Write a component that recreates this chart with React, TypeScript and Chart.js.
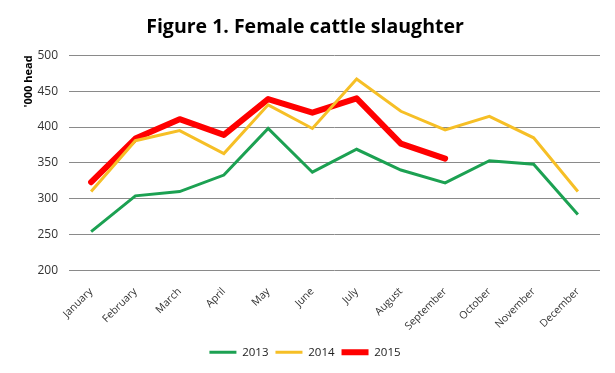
import React, { useEffect, useRef } from "react";
import { Chart, registerables } from "chart.js";

Chart.register(...registerables);

const months = ["January", "February", "March", "April", "May", "June", "July", "August", "September", "October", "November", "December"];
const series2013 = [254, 304, 310, 333, 398, 337, 369, 340, 322, 353, 348, 278];
const series2014 = [310, 381, 395, 363, 431, 398, 467, 422, 396, 415, 385, 310];
const series2015 = [323, 384, 411, 389, 439, 420, 440, 377, 356, null, null, null];
const yTicks = { min: 200, max: 500, step: 50 };

const FONT = '"Open Sans", "Liberation Sans", sans-serif';

export default function App() {
  const ref = useRef<HTMLCanvasElement>(null);
  useEffect(() => {
    document.body.style.margin = "0";
    const ctx = ref.current!;
    const chart = new Chart(ctx, {
      type: "line",
      data: {
        labels: months,
        datasets: [
          { label: "2013", data: series2013, borderColor: "#1ca152", backgroundColor: "#1ca152", borderWidth: 3, pointRadius: 0, tension: 0 },
          { label: "2014", data: series2014, borderColor: "#f6bf26", backgroundColor: "#f6bf26", borderWidth: 3, pointRadius: 0, tension: 0 },
          { label: "2015", data: series2015, borderColor: "#ff0000", backgroundColor: "#ff0000", borderWidth: 6, pointRadius: 0, tension: 0, borderCapStyle: "round", borderJoinStyle: "round" },
        ],
      },
      options: {
        animation: false,
        responsive: false,
        maintainAspectRatio: false,
        layout: { padding: { left: 10, right: 15, top: 8, bottom: 5 } },
        plugins: {
          title: {
            display: true,
            text: "Figure 1. Female cattle slaughter",
            color: "#000",
            font: { family: FONT, size: 19.5, weight: "bold" },
            padding: { top: 8, bottom: 16 },
          },
          legend: {
            position: "bottom",
            labels: {
              usePointStyle: true,
              pointStyle: "line",
              pointStyleWidth: 27,
              boxWidth: 27,
              color: "#222",
              font: { family: FONT, size: 11.5 },
              padding: 7,
            },
          },
          tooltip: { enabled: false },
        },
        scales: {
          x: {
            offset: true,
            grid: { display: false },
            border: { display: false },
            ticks: {
              minRotation: 45,
              maxRotation: 45,
              color: "#333",
              font: { family: FONT, size: 10.5 },
              padding: 7,
            },
          },
          y: {
            min: yTicks.min,
            max: yTicks.max,
            afterFit: (scale: any) => {
              scale.width = 59;
            },
            ticks: { stepSize: yTicks.step, color: "#333", font: { family: FONT, size: 12 }, padding: 11 },
            grid: { color: "#8a8a8a", lineWidth: 1, drawTicks: false },
            border: { display: false },
            title: {
              display: true,
              text: "'000 head",
              align: "end",
              color: "#000",
              font: { family: FONT, size: 11, weight: "bold" },
              padding: { top: 12, bottom: 0 },
            },
          },
        },
      },
    });
    return () => chart.destroy();
  }, []);
  return (
    <div style={{ width: 615, height: 373, background: "#fff" }}>
      <canvas ref={ref} width={615} height={373} style={{ display: "block" }} />
    </div>
  );
}
